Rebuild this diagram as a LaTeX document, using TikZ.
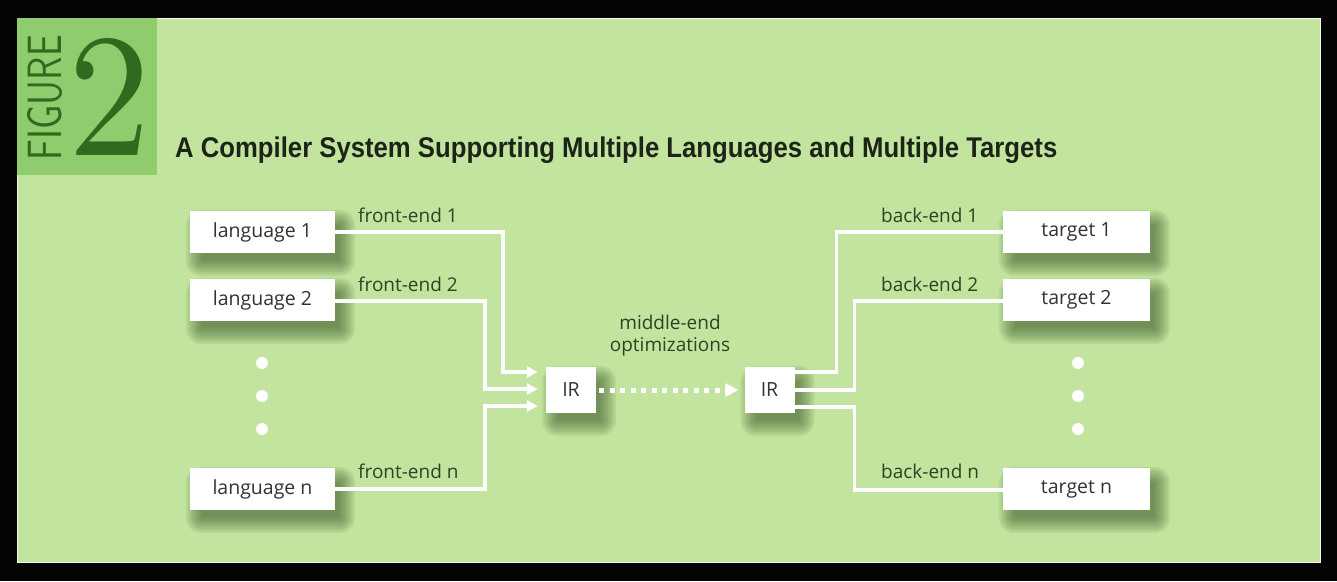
\documentclass[tikz,border=0pt]{standalone}
\usepackage{fontspec}
\setmainfont{Open Sans}
\newfontfamily\lmr{Latin Modern Roman}
\newfontfamily\titlefont{Liberation Sans}
\usetikzlibrary{arrows.meta,calc,backgrounds}
\definecolor{bgblack}{HTML}{050505}
\definecolor{panel}{HTML}{C2E49E}
\definecolor{figbox}{HTML}{8FCC6E}
\definecolor{figgreen}{HTML}{2F6A1F}
\definecolor{labgreen}{HTML}{2B4424}
\definecolor{boxtext}{HTML}{333333}
\definecolor{titlecol}{HTML}{1C2418}
\definecolor{shadowcol}{HTML}{2E4A1E}
\tikzset{
  wbox/.style={draw=none, fill=white, inner sep=0pt, text=boxtext,
    font=\fontsize{19.5}{19.5}\selectfont},
  langbox/.style={wbox, minimum width=145pt, minimum height=42pt},
  irbox/.style={wbox, minimum width=50pt, minimum height=46pt},
  lab/.style={text=labgreen, font=\fontsize{19}{19}\selectfont, inner sep=0pt},
  wline/.style={draw=white, line width=3.5pt},
  warrow/.style={wline, -{Triangle[length=11pt,width=11pt]}, shorten >=8pt},
  wdot/.style={fill=white, draw=none},
  shadowlayer/.style={fill=shadowcol, fill opacity=0.08},
}
\begin{document}
\begin{tikzpicture}[x=1pt,y=-1pt]
\useasboundingbox (0,0) rectangle (1337,581);
% boxes
\node[langbox] (l1) at (262.5,232) {language 1};
\node[langbox] (l2) at (262.5,300) {language 2};
\node[langbox] (ln) at (262.5,489) {language n};
\node[langbox, minimum width=147pt] (t1) at (1076.5,232) {target 1};
\node[langbox, minimum width=147pt] (t2) at (1076.5,300) {target 2};
\node[langbox, minimum width=147pt] (tn) at (1076.5,489) {target n};
\node[irbox] (ir1) at (571,390) {IR};
\node[irbox] (ir2) at (769.5,390) {IR};
\begin{scope}[on background layer]
\fill[bgblack] (0,0) rectangle (1337,581);
\fill[panel] (17,18) rectangle (1320,562);
\draw[white!80!panel, line width=1pt] (17,18) rectangle (1320,562);
\fill[figbox] (17,18) rectangle (157,175);
\foreach \n in {l1,l2,ln,t1,t2,tn,ir1,ir2}{
  \foreach \k in {-4,-2,...,12}{
    \fill[shadowlayer, rounded corners=\k pt+4pt]
      ($(\n.south west)+(8-\k,11+\k)$) rectangle ($(\n.north east)+(8+\k,11-\k)$);
  }
}
\end{scope}
% FIGURE 2
\node[text=figgreen, inner sep=0pt, rotate=90] (figword) at (45,97.5)
  {\resizebox{125pt}{34pt}{\sffamily\fontspec{Latin Modern Sans}FIGURE}};
\node[text=figgreen, inner sep=0pt] (fignum) at (109,96.5)
  {\resizebox{82pt}{117pt}{\lmr 2}};
% title
\node[text=titlecol, inner sep=0pt, anchor=base west] (title) at (175,157)
  {\resizebox{882pt}{\height}{\titlefont\fontsize{28.5}{28.5}\selectfont\bfseries A Compiler System Supporting Multiple Languages and Multiple Targets}};
% dots
\foreach \yy [count=\i] in {363,396,429}{
  \fill[wdot] (262,\yy) circle (6pt);
  \fill[wdot] (1078,\yy) circle (6pt);
}
% front-end connectors
\draw[warrow] (l1.east) -- ++(168,0) |- ([yshift=18pt]ir1.west);
\draw[warrow] ([yshift=-1pt]l2.east) -- ++(150,0) |- ([yshift=1pt]ir1.west);
\draw[warrow] (ln.east) -- ++(150,0) |- ([yshift=-16pt]ir1.west);
% back-end connectors
\draw[wline] ([yshift=18pt]ir2.east) -- ++(42,0) |- (t1.west);
\draw[wline] (ir2.east) -- ++(60,0) |- ([yshift=-1pt]t2.west);
\draw[wline] ([yshift=-17pt]ir2.east) -- ++(60,0) |- ([yshift=-1pt]tn.west);
% middle dotted arrow
\draw[draw=white, line width=5pt, dash pattern=on 5pt off 5.5pt,
  -{Triangle[length=13pt,width=13pt]}, shorten >=6pt, shorten <=3pt] (ir1.east) -- (ir2.west);
% labels
\node[lab, anchor=west] (fe1) at (358,215) {front-end 1};
\node[lab, anchor=west] (fe2) at (358,284) {front-end 2};
\node[lab, anchor=west] (fen) at (358,471) {front-end n};
\node[lab, anchor=west] (be1) at (881,215) {back-end 1};
\node[lab, anchor=west] (be2) at (881,284) {back-end 2};
\node[lab, anchor=west] (ben) at (881,471) {back-end n};
\node[lab, align=center] (mid) at (670,336) {middle-end\\[3pt]optimizations};
\end{tikzpicture}
\end{document}
